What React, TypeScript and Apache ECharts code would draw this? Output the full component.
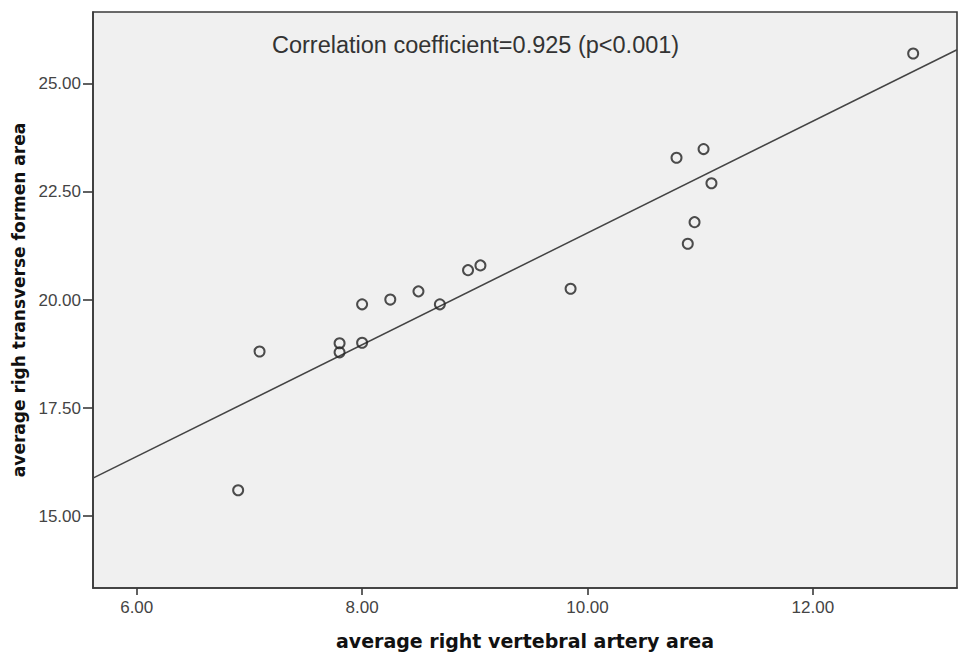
import React, { useEffect, useRef } from "react";
import * as echarts from "echarts";

const xValues = [6.9, 7.09, 7.8, 7.8, 8.0, 8.0, 8.25, 8.5, 8.69, 8.94, 9.05, 9.85, 10.79, 11.03, 11.1, 10.95, 10.89, 12.89];
const yValues = [15.6, 18.81, 19.0, 18.79, 19.9, 19.01, 20.01, 20.2, 19.9, 20.69, 20.8, 20.26, 23.29, 23.49, 22.7, 21.8, 21.3, 25.7];
const xTicks = [6, 8, 10, 12];
const yTicks = [15, 17.5, 20, 22.5, 25];
const xRange = [5.612, 13.279];
const yRange = [13.34, 26.66];
const fitIntercept = 8.63;
const fitSlope = 1.292;
const annotation = "Correlation coefficient=0.925 (p<0.001)";
const xTitle = "average right vertebral artery area";
const yTitle = "average righ transverse formen area";

export default function App() {
  const ref = useRef<HTMLDivElement>(null);
  useEffect(() => {
    if (!ref.current) return;
    const chart = echarts.init(ref.current, null, { renderer: "svg" });
    const points = xValues.map((x, i) => [x, yValues[i]]);
    const fit = xRange.map((x) => [x, fitIntercept + fitSlope * x]);
    const tickFont = { color: "#444", fontSize: 17, fontFamily: "Liberation Sans, Arial, sans-serif" };
    chart.setOption({
      animation: false,
      backgroundColor: "#ffffff",
      grid: {
        left: 93,
        top: 12,
        right: 1,
        bottom: 63,
        show: true,
        backgroundColor: "#F0F0F0",
        borderColor: "#3a3a3a",
        borderWidth: 1.6,
      },
      xAxis: {
        type: "value",
        min: xRange[0],
        max: xRange[1],
        name: xTitle,
        nameLocation: "middle",
        nameGap: 43,
        nameTextStyle: { color: "#111", fontSize: 19, fontWeight: "bold", fontFamily: "DejaVu Sans, Verdana, sans-serif" },
        axisLine: { show: true, onZero: false, lineStyle: { color: "#3a3a3a", width: 1.6 } },
        axisTick: { show: true, customValues: xTicks, length: 7, lineStyle: { color: "#3a3a3a", width: 1.6 } },
        axisLabel: { ...tickFont, customValues: xTicks, margin: 11, formatter: (v: number) => v.toFixed(2) },
        splitLine: { show: false },
      },
      yAxis: {
        type: "value",
        min: yRange[0],
        max: yRange[1],
        name: yTitle,
        nameLocation: "middle",
        nameGap: 66,
        nameRotate: 90,
        nameTextStyle: { color: "#111", fontSize: 17, fontWeight: "bold", fontFamily: "DejaVu Sans, Verdana, sans-serif" },
        axisLine: { show: true, onZero: false, lineStyle: { color: "#3a3a3a", width: 1.6 } },
        axisTick: { show: true, customValues: yTicks, length: 10, lineStyle: { color: "#3a3a3a", width: 1.6 } },
        axisLabel: { ...tickFont, customValues: yTicks, margin: 12, formatter: (v: number) => v.toFixed(2) },
        splitLine: { show: false },
      },
      graphic: [
        {
          type: "text",
          x: 272,
          y: 45,
          style: {
            text: annotation,
            fill: "#333",
            fontSize: 23.5,
            fontFamily: "Liberation Sans, Arial, sans-serif",
            verticalAlign: "middle",
            align: "left",
          },
          z: 10,
        },
      ],
      series: [
        {
          type: "line",
          data: fit,
          symbol: "none",
          lineStyle: { color: "#444", width: 1.5 },
          z: 2,
          silent: true,
        },
        {
          type: "scatter",
          data: points,
          symbol: "circle",
          symbolSize: 10,
          itemStyle: { color: "rgba(0,0,0,0)", borderColor: "#222", borderWidth: 2 },
          z: 3,
        },
      ],
    });
    return () => chart.dispose();
  }, []);
  return <div ref={ref} style={{ position: "fixed", left: 0, top: 0, width: 958, height: 655 }} />;
}
